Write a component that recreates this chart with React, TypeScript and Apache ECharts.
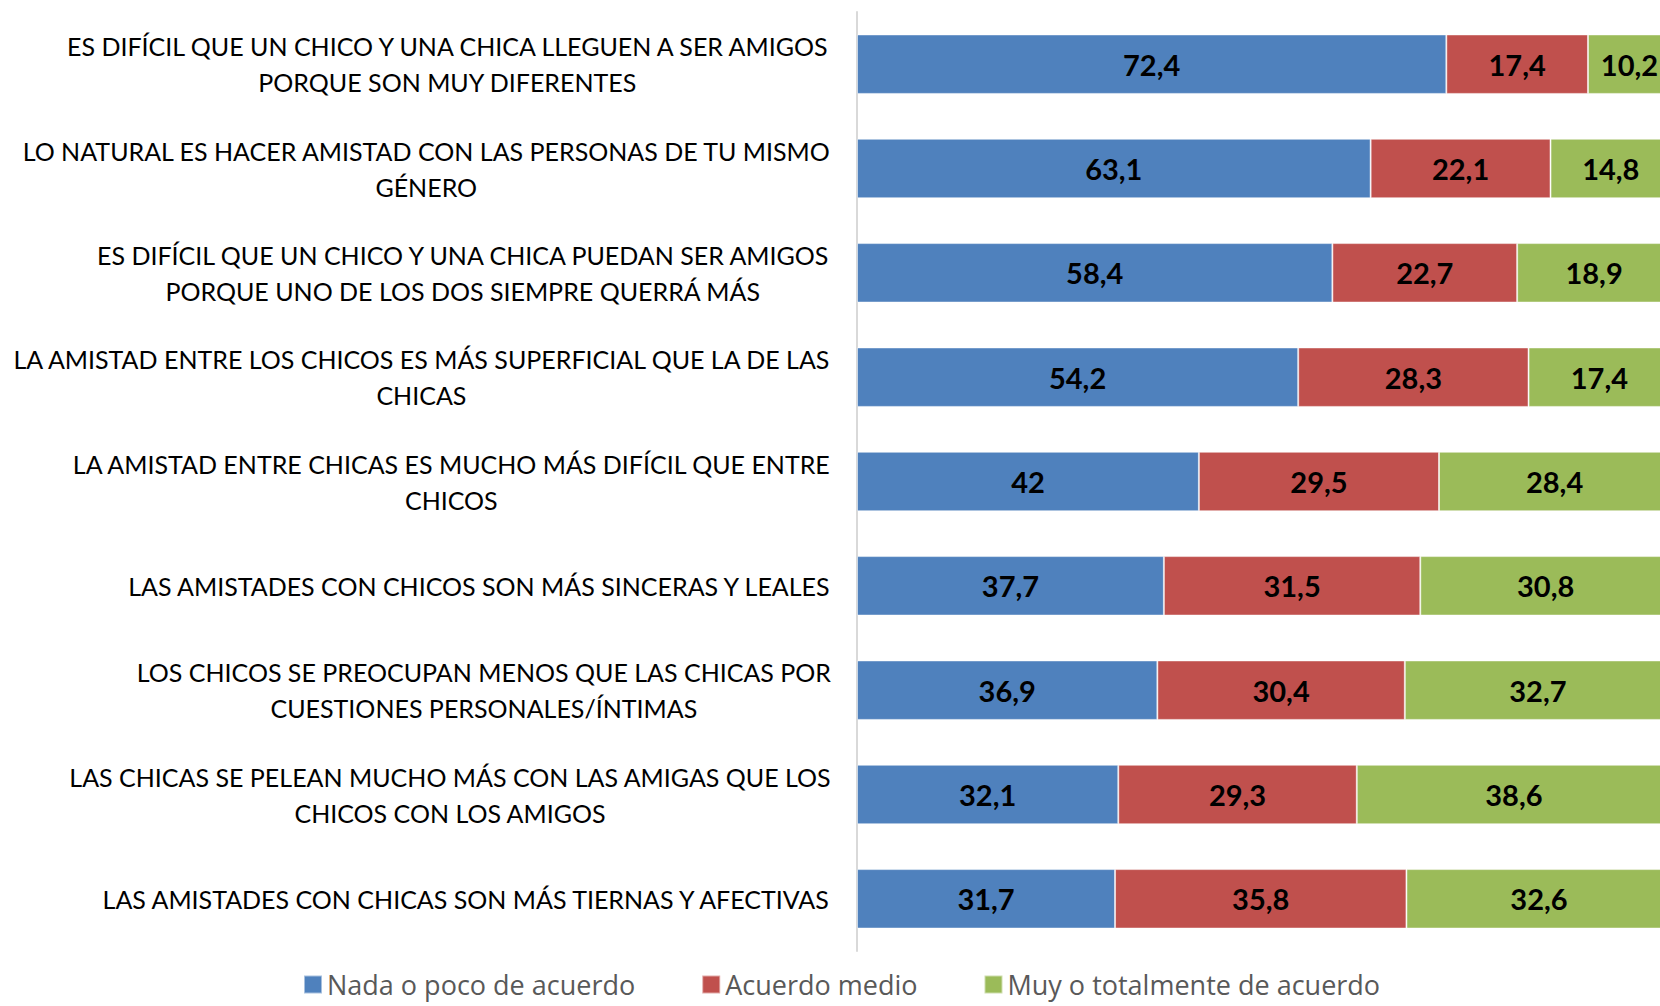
import React, { useEffect, useRef } from "react";
import * as echarts from "echarts";

const categories = [
  "ES DIFÍCIL QUE UN CHICO Y UNA CHICA LLEGUEN A SER AMIGOS\nPORQUE SON MUY DIFERENTES",
  "LO NATURAL ES HACER AMISTAD CON LAS PERSONAS DE TU MISMO\nGÉNERO",
  "ES DIFÍCIL QUE UN CHICO Y UNA CHICA PUEDAN SER AMIGOS\nPORQUE UNO DE LOS DOS SIEMPRE QUERRÁ MÁS",
  "LA AMISTAD ENTRE LOS CHICOS ES MÁS SUPERFICIAL QUE LA DE LAS\nCHICAS",
  "LA AMISTAD ENTRE CHICAS ES MUCHO MÁS DIFÍCIL QUE ENTRE\nCHICOS",
  "LAS AMISTADES CON CHICOS SON MÁS SINCERAS Y LEALES",
  "LOS CHICOS SE PREOCUPAN MENOS QUE LAS CHICAS POR\nCUESTIONES PERSONALES/ÍNTIMAS",
  "LAS CHICAS SE PELEAN MUCHO MÁS CON LAS AMIGAS QUE LOS\nCHICOS CON LOS AMIGOS",
  "LAS AMISTADES CON CHICAS SON MÁS TIERNAS Y AFECTIVAS",
];

const seriesNames = ["Nada o poco de acuerdo", "Acuerdo medio", "Muy o totalmente de acuerdo"];
const nada = [72.4, 63.1, 58.4, 54.2, 42, 37.7, 36.9, 32.1, 31.7];
const medio = [17.4, 22.1, 22.7, 28.3, 29.5, 31.5, 30.4, 29.3, 35.8];
const muy = [10.2, 14.8, 18.9, 17.4, 28.4, 30.8, 32.7, 38.6, 32.6];
const colors = ["#4F81BD", "#C0504D", "#9BBB59"];

const FONT = "Lato, 'Noto Sans', sans-serif";
const LEGEND_FONT = "'Open Sans', Lato, sans-serif";

export default function App() {
  const ref = useRef<HTMLDivElement>(null);
  useEffect(() => {
    if (!ref.current) return;
    document.body.style.overflow = "hidden";
    const chart = echarts.init(ref.current, undefined, { renderer: "svg" });
    const values = [nada, medio, muy];
    chart.setOption({
      animation: false,
      color: colors,
      grid: { left: 857, right: 0, top: 12, bottom: 55, containLabel: false },
      legend: {
        top: 971,
        left: 303,
        padding: 0,
        icon: "rect",
        itemWidth: 18,
        itemHeight: 18,
        itemGap: 66,
        textStyle: {
          color: "#595959",
          fontSize: 27,
          lineHeight: 27,
          fontFamily: LEGEND_FONT,
        },
        data: seriesNames,
      },
      xAxis: {
        type: "value",
        min: 0,
        max: 100,
        show: false,
      },
      yAxis: {
        type: "category",
        inverse: true,
        data: categories,
        axisLine: { show: true, lineStyle: { color: "#D9D9D9", width: 2 } },
        axisTick: { show: false },
        axisLabel: {
          margin: 26,
          align: "right",
          formatter: (v: string) =>
            v
              .split("\n")
              .map((l) => `{c|${l}}`)
              .join("\n"),
          rich: {
            c: {
              align: "center",
              fontSize: 25,
              lineHeight: 36,
              color: "#000",
              fontFamily: FONT,
            },
          },
        },
      },
      series: values.map((vals, i) => ({
        name: seriesNames[i],
        type: "bar",
        stack: "total",
        barWidth: "57%",
        data: vals,
        itemStyle: { borderColor: "rgba(255,255,255,0.5)", borderWidth: 1 },
        label: {
          show: true,
          position: "inside",
          color: "#000",
          fontWeight: "bold",
          fontSize: 29,
          fontFamily: FONT,
          formatter: (p: any) => String(p.value).replace(".", ","),
        },
      })),
    });
    return () => chart.dispose();
  }, []);
  return (
    <div
      ref={ref}
      style={{ position: "fixed", left: 0, top: 0, width: 1671, height: 1006, background: "#fff" }}
    />
  );
}
